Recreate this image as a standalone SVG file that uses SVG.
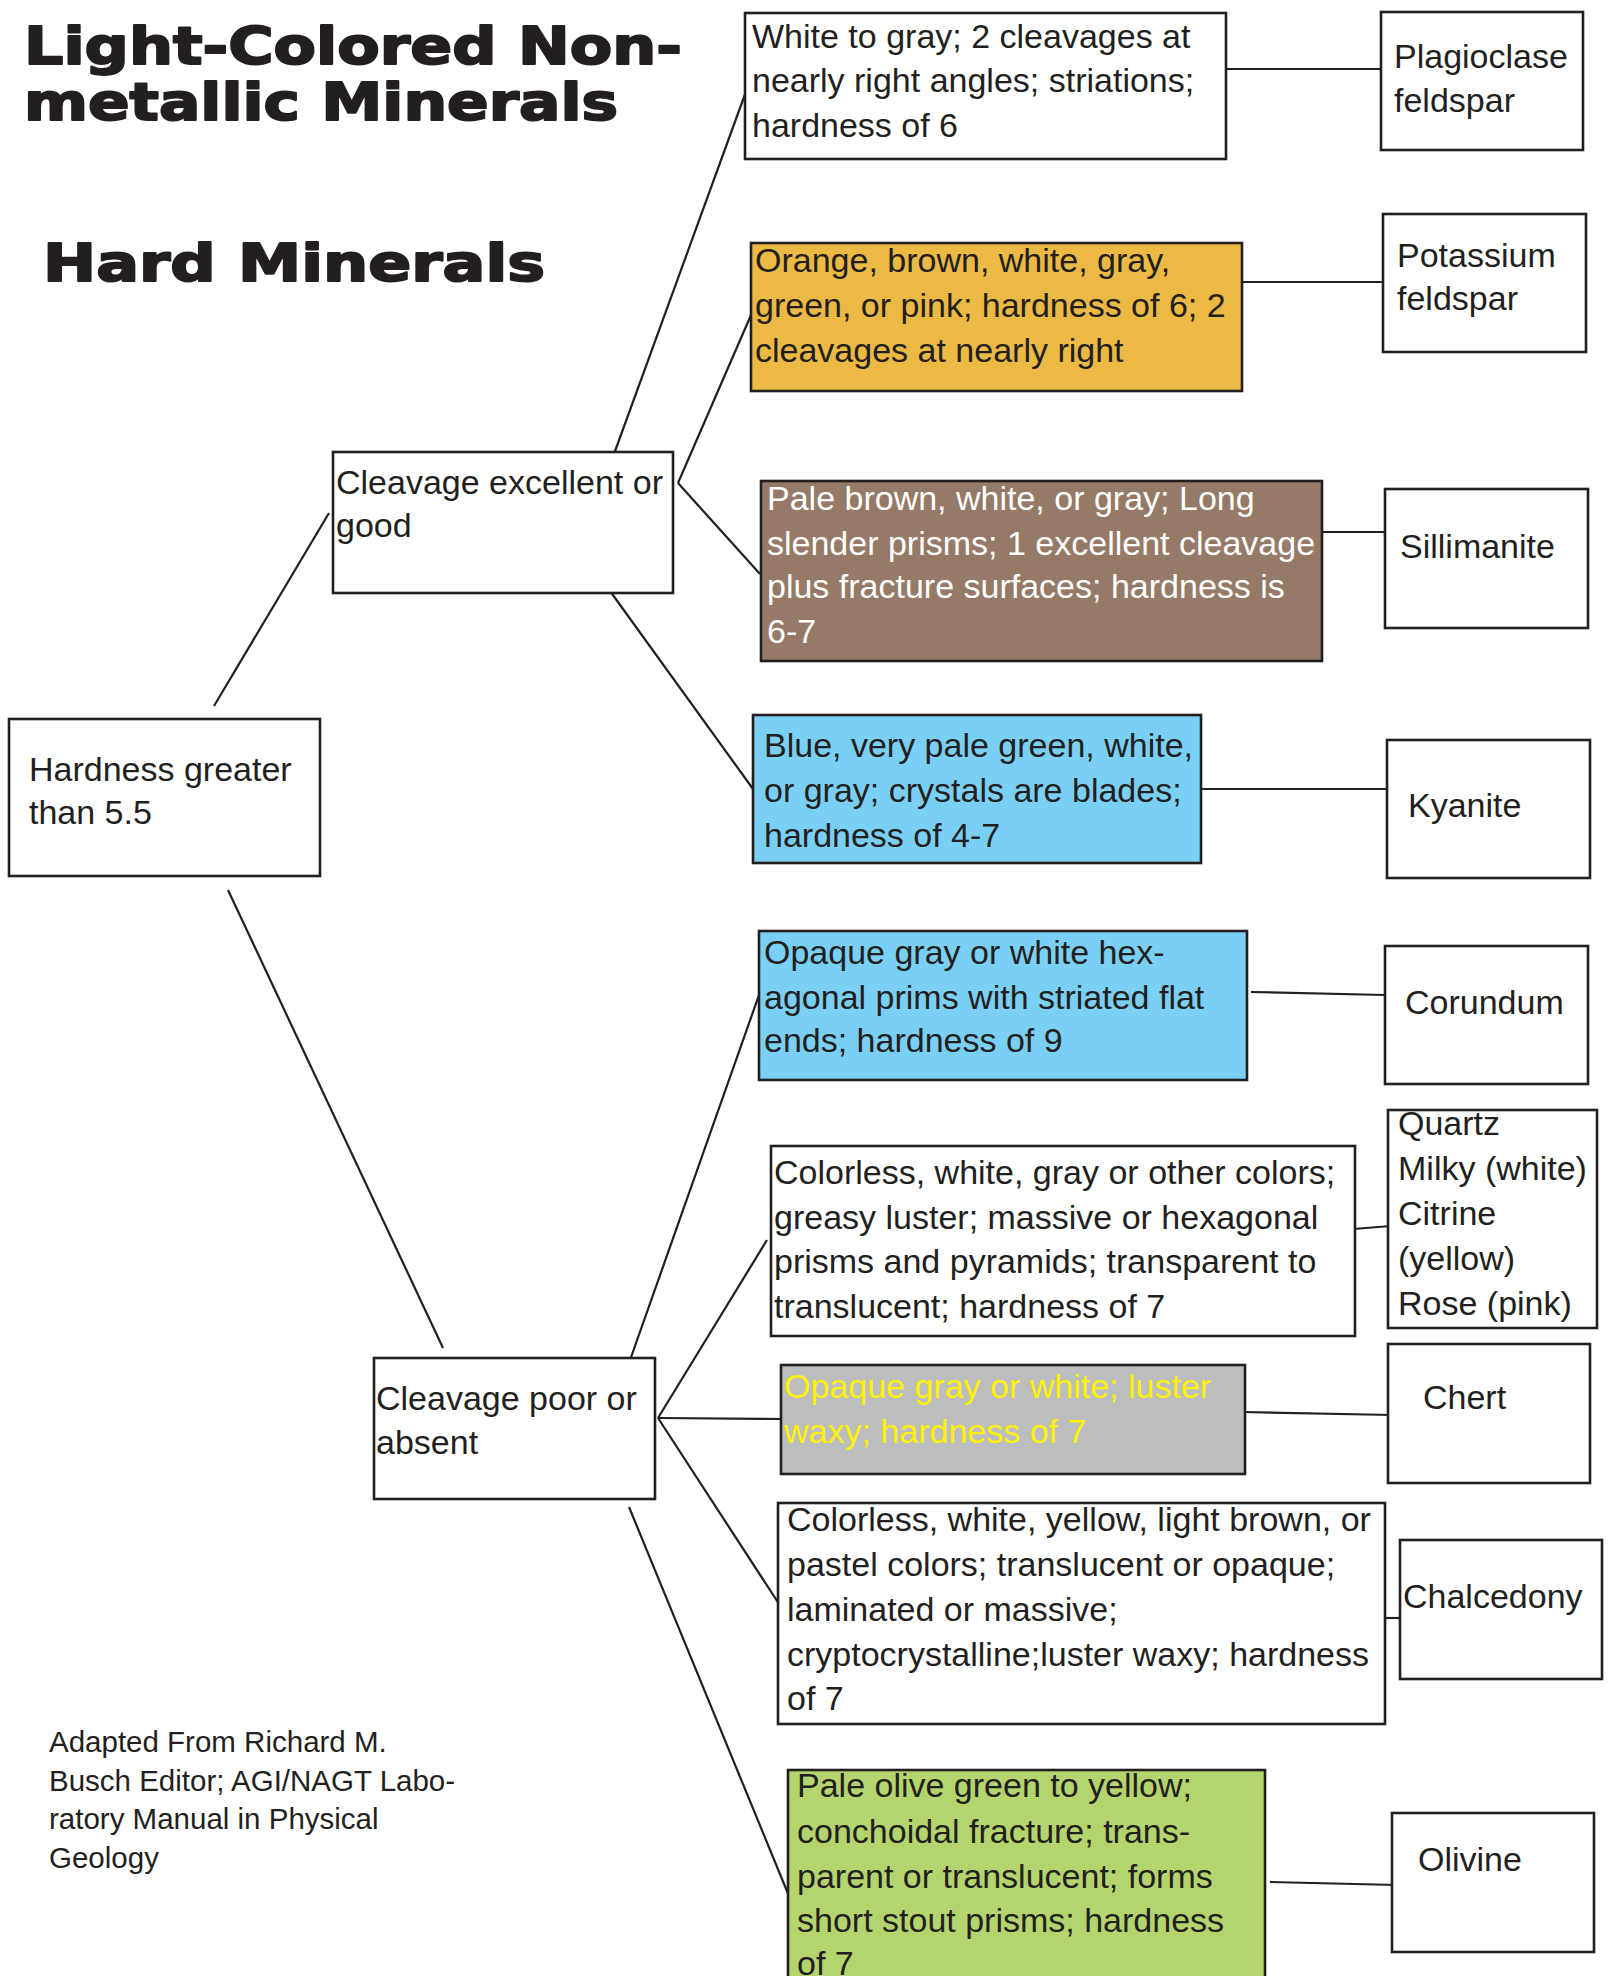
<svg xmlns="http://www.w3.org/2000/svg" width="1614" height="1976" viewBox="0 0 1614 1976">
<style>
.bx{stroke:#231F20;stroke-width:2.6;fill:#fff}
.t{font-family:"Liberation Sans",Arial,sans-serif;font-size:34px;fill:#231F20}
.w{fill:#fff}
.y{fill:#FFF200}
.h{font-family:"DejaVu Sans","Liberation Sans",sans-serif;font-weight:bold;fill:#231F20;stroke:#231F20;stroke-width:2;stroke-linejoin:round}
.f{font-family:"Liberation Sans",Arial,sans-serif;font-size:29.5px;fill:#231F20}
#connectors line,#connectors polyline{stroke:#231F20;stroke-width:2.2;fill:none}
</style>
<rect width="1614" height="1976" fill="#fff"/>
<g id="titles">
<text class="h" x="24" y="64" font-size="52" textLength="658" lengthAdjust="spacingAndGlyphs">Light-Colored Non-</text>
<text class="h" x="24" y="120" font-size="52" textLength="594" lengthAdjust="spacingAndGlyphs">metallic Minerals</text>
<text class="h" x="43" y="281" font-size="51" textLength="502" lengthAdjust="spacingAndGlyphs">Hard Minerals</text>
</g>
<g id="connectors">
<line x1="214" y1="706" x2="329" y2="513"/>
<line x1="228" y1="890" x2="443" y2="1348"/>
<line x1="614" y1="454" x2="748" y2="86"/>
<line x1="678" y1="483" x2="751" y2="315"/>
<line x1="678" y1="483" x2="760" y2="574"/>
<line x1="610" y1="591" x2="753" y2="789"/>
<polyline points="1226,69 1380,69 1382,72"/>
<line x1="1242" y1="282" x2="1383" y2="282"/>
<polyline points="1322,532 1385,532 1385,536"/>
<line x1="1195" y1="789" x2="1387" y2="789"/>
<line x1="629" y1="1363" x2="759" y2="995"/>
<line x1="658" y1="1418" x2="767" y2="1240"/>
<line x1="658" y1="1418" x2="785" y2="1419"/>
<line x1="658" y1="1418" x2="781" y2="1607"/>
<line x1="629" y1="1507" x2="789" y2="1896"/>
<line x1="1251" y1="992" x2="1385" y2="995"/>
<line x1="1353" y1="1229" x2="1391" y2="1226"/>
<polyline points="1243,1412 1392,1415 1392,1405"/>
<line x1="1385" y1="1618" x2="1401" y2="1618"/>
<line x1="1270" y1="1882" x2="1397" y2="1885"/>
</g>
<g id="hardness">
<rect class="bx" x="9" y="719" width="311" height="157"/>
<text class="t" x="29" y="781">Hardness greater</text>
<text class="t" x="29" y="824">than 5.5</text>
</g>
<g id="cleavage-good">
<rect class="bx" x="333" y="452" width="340" height="141"/>
<text class="t" x="336" y="494">Cleavage excellent or</text>
<text class="t" x="336" y="537">good</text>
</g>
<g id="cleavage-poor">
<rect class="bx" x="374" y="1358" width="281" height="141"/>
<text class="t" x="376" y="1410">Cleavage poor or</text>
<text class="t" x="376" y="1454">absent</text>
</g>
<g id="desc-plagioclase">
<rect class="bx" x="745" y="13" width="481" height="146"/>
<text class="t" x="752" y="48">White to gray; 2 cleavages at</text>
<text class="t" x="752" y="92">nearly right angles; striations;</text>
<text class="t" x="752" y="137">hardness of 6</text>
</g>
<g id="desc-potassium">
<rect class="bx" x="751" y="243" width="491" height="148" style="fill:#ECB944"/>
<text class="t" x="755" y="272">Orange, brown, white, gray,</text>
<text class="t" x="755" y="317">green, or pink; hardness of 6; 2</text>
<text class="t" x="755" y="362">cleavages at nearly right</text>
</g>
<g id="desc-sillimanite">
<rect class="bx" x="761" y="481" width="561" height="180" style="fill:#957A67"/>
<text class="t w" x="767" y="510">Pale brown, white, or gray; Long</text>
<text class="t w" x="767" y="555">slender prisms; 1 excellent cleavage</text>
<text class="t w" x="767" y="598">plus fracture surfaces; hardness is</text>
<text class="t w" x="767" y="643">6-7</text>
</g>
<g id="desc-kyanite">
<rect class="bx" x="753" y="715" width="448" height="148" style="fill:#7AD0F4"/>
<text class="t" x="764" y="757">Blue, very pale green, white,</text>
<text class="t" x="764" y="802">or gray; crystals are blades;</text>
<text class="t" x="764" y="847">hardness of 4-7</text>
</g>
<g id="desc-corundum">
<rect class="bx" x="759" y="931" width="488" height="149" style="fill:#7AD0F4"/>
<text class="t" x="764" y="964">Opaque gray or white hex-</text>
<text class="t" x="764" y="1009">agonal prims with striated flat</text>
<text class="t" x="764" y="1052">ends; hardness of 9</text>
</g>
<g id="desc-quartz">
<rect class="bx" x="771" y="1146" width="584" height="190"/>
<text class="t" x="774" y="1184">Colorless, white, gray or other colors;</text>
<text class="t" x="774" y="1229">greasy luster; massive or hexagonal</text>
<text class="t" x="774" y="1273">prisms and pyramids; transparent to</text>
<text class="t" x="774" y="1318">translucent; hardness of 7</text>
</g>
<g id="desc-chert">
<rect class="bx" x="781" y="1365" width="464" height="109" style="fill:#BCBEC0"/>
<text class="t y" x="784" y="1398">Opaque gray or white; luster</text>
<text class="t y" x="784" y="1443">waxy; hardness of 7</text>
</g>
<g id="desc-chalcedony">
<rect class="bx" x="778" y="1503" width="607" height="221"/>
<text class="t" x="787" y="1531">Colorless, white, yellow, light brown, or</text>
<text class="t" x="787" y="1576">pastel colors; translucent or opaque;</text>
<text class="t" x="787" y="1621">laminated or massive;</text>
<text class="t" x="787" y="1666">cryptocrystalline;luster waxy; hardness</text>
<text class="t" x="787" y="1710">of 7</text>
</g>
<g id="desc-olivine">
<rect class="bx" x="788" y="1770" width="477" height="240" style="fill:#B4D56E"/>
<text class="t" x="797" y="1797">Pale olive green to yellow;</text>
<text class="t" x="797" y="1843">conchoidal fracture; trans-</text>
<text class="t" x="797" y="1888">parent or translucent; forms</text>
<text class="t" x="797" y="1932">short stout prisms; hardness</text>
<text class="t" x="797" y="1975">of 7</text>
</g>
<g id="plagioclase">
<rect class="bx" x="1381" y="12" width="202" height="138"/>
<text class="t" x="1394" y="68">Plagioclase</text>
<text class="t" x="1394" y="112">feldspar</text>
</g>
<g id="potassium">
<rect class="bx" x="1383" y="214" width="203" height="138"/>
<text class="t" x="1397" y="267">Potassium</text>
<text class="t" x="1397" y="310">feldspar</text>
</g>
<g id="sillimanite">
<rect class="bx" x="1385" y="489" width="203" height="139"/>
<text class="t" x="1400" y="558">Sillimanite</text>
</g>
<g id="kyanite">
<rect class="bx" x="1387" y="740" width="203" height="138"/>
<text class="t" x="1408" y="817">Kyanite</text>
</g>
<g id="corundum">
<rect class="bx" x="1385" y="946" width="203" height="138"/>
<text class="t" x="1405" y="1014">Corundum</text>
</g>
<g id="quartz">
<rect class="bx" x="1388" y="1110" width="209" height="218"/>
<text class="t" x="1398" y="1135">Quartz</text>
<text class="t" x="1398" y="1180">Milky (white)</text>
<text class="t" x="1398" y="1225">Citrine</text>
<text class="t" x="1398" y="1270">(yellow)</text>
<text class="t" x="1398" y="1315">Rose (pink)</text>
</g>
<g id="chert">
<rect class="bx" x="1388" y="1344" width="202" height="139"/>
<text class="t" x="1423" y="1409">Chert</text>
</g>
<g id="chalcedony">
<rect class="bx" x="1400" y="1540" width="202" height="139"/>
<text class="t" x="1403" y="1608">Chalcedony</text>
</g>
<g id="olivine">
<rect class="bx" x="1392" y="1813" width="202" height="139"/>
<text class="t" x="1418" y="1871">Olivine</text>
</g>
<g id="credit">
<text class="f" x="49" y="1752">Adapted From Richard M.</text>
<text class="f" x="49" y="1791">Busch Editor; AGI/NAGT Labo-</text>
<text class="f" x="49" y="1829">ratory Manual in Physical</text>
<text class="f" x="49" y="1868">Geology</text>
</g>
</svg>
